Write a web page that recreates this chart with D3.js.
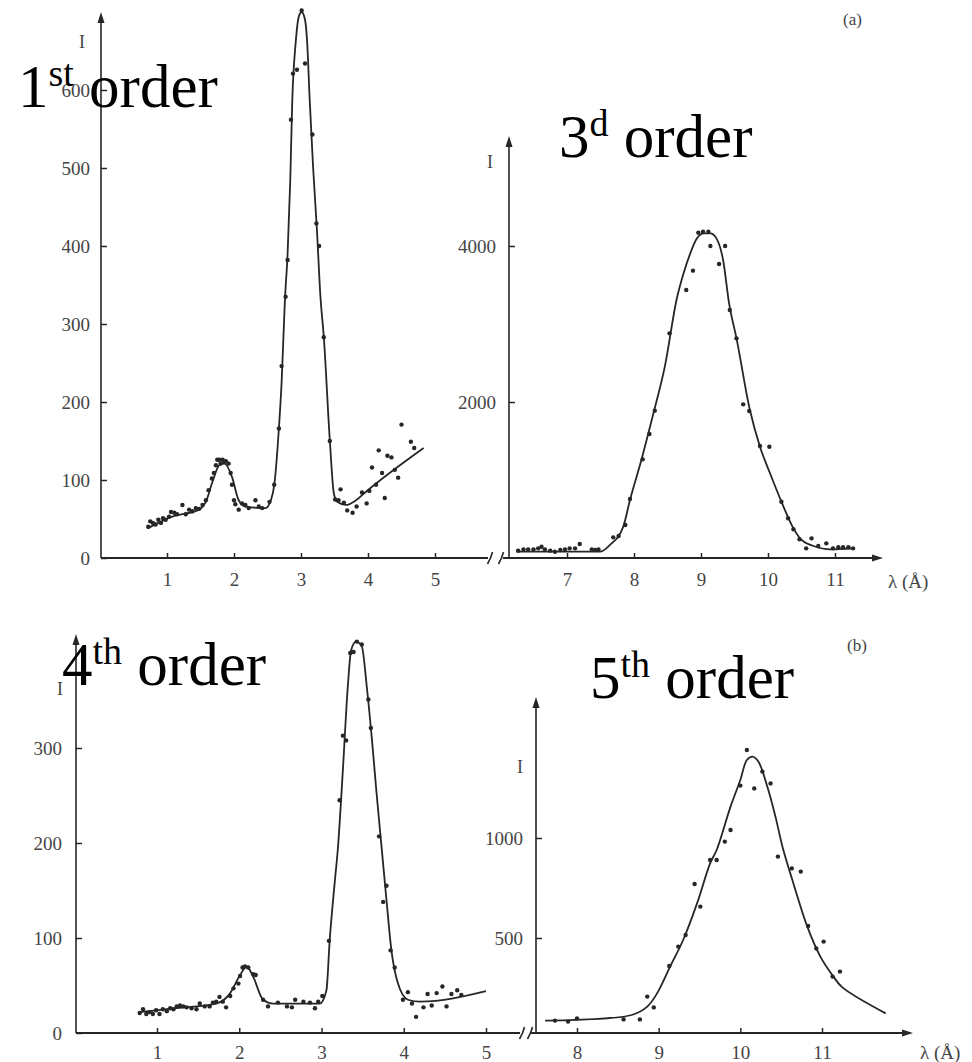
<!DOCTYPE html>
<html>
<head>
<meta charset="utf-8">
<script src="https://cdn.jsdelivr.net/npm/d3@7"></script>
<style>
  body { margin: 0; background: #fff; }
</style>
</head>
<body>
<svg id="chart" width="972" height="1062"></svg>
<script>
// ---- data, [lambda (Å), intensity] ----
const order1Curve = [[0.71,38],[1.08,53],[1.48,62],[1.58,72],[1.68,98],[1.78,119],[1.86,121],[1.97,104],[2.07,74],[2.17,66],[2.47,64],[2.55,74],[2.60,93],[2.67,166],[2.71,224],[2.76,331],[2.80,390],[2.84,485],[2.87,587],[2.92,660],[2.97,695],[3.01,700],[3.06,690],[3.09,664],[3.13,587],[3.18,502],[3.24,417],[3.29,335],[3.34,284],[3.43,151],[3.49,83],[3.54,72],[3.67,68],[3.82,74],[3.97,85],[4.83,141]];
const order1Dots = [[0.72,40],[0.75,47],[0.79,45],[0.83,43],[0.87,49],[0.91,45],[0.94,51],[0.98,49],[1.03,53],[1.06,59],[1.11,58],[1.15,56],[1.23,68],[1.28,56],[1.33,62],[1.38,60],[1.43,64],[1.48,63],[1.53,68],[1.58,74],[1.62,87],[1.67,102],[1.70,109],[1.73,119],[1.75,126],[1.78,126],[1.80,121],[1.83,126],[1.85,124],[1.88,124],[1.92,121],[1.95,109],[1.97,94],[2.00,74],[2.02,69],[2.07,62],[2.12,70],[2.17,68],[2.22,64],[2.32,74],[2.37,66],[2.42,64],[2.53,72],[2.60,94],[2.67,166],[2.71,246],[2.77,335],[2.80,382],[2.85,562],[2.88,621],[2.94,626],[3.01,702],[3.06,634],[3.17,543],[3.23,429],[3.27,400],[3.34,283],[3.43,150],[3.51,75],[3.56,74],[3.59,88],[3.64,71],[3.69,61],[3.77,58],[3.83,66],[3.91,84],[3.98,70],[4.02,86],[4.06,116],[4.12,94],[4.16,138],[4.21,109],[4.25,77],[4.29,131],[4.35,129],[4.40,113],[4.45,103],[4.50,171],[4.64,149],[4.69,141]];

const order3Curve = [[6.25,81],[7.49,81],[7.64,167],[7.84,402],[7.94,744],[8.11,1256],[8.29,1855],[8.46,2453],[8.64,3330],[8.74,3650],[8.84,3906],[8.94,4098],[9.04,4162],[9.14,4162],[9.23,4098],[9.33,3820],[9.42,3260],[9.53,2816],[9.73,1897],[9.88,1427],[10.03,1086],[10.20,722],[10.38,380],[10.50,231],[10.68,154],[10.93,111],[11.27,124]];
const order3Dots = [[6.27,94],[6.35,111],[6.42,111],[6.50,111],[6.57,124],[6.62,145],[6.67,111],[6.75,94],[6.82,81],[6.90,103],[6.97,111],[7.04,124],[7.12,124],[7.19,179],[7.37,111],[7.42,103],[7.47,111],[7.69,265],[7.77,282],[7.87,423],[7.94,756],[8.13,1265],[8.23,1590],[8.31,1889],[8.53,2880],[8.78,3436],[8.88,3684],[8.96,4171],[9.03,4184],[9.11,4184],[9.14,4000],[9.27,3769],[9.36,4000],[9.43,3179],[9.53,2816],[9.63,1970],[9.72,1885],[9.88,1436],[10.02,1427],[10.20,722],[10.30,509],[10.38,368],[10.47,240],[10.57,124],[10.65,252],[10.75,154],[10.87,188],[10.97,124],[11.05,137],[11.12,137],[11.20,137],[11.27,124]];

const order4Curve = [[0.79,22],[1.20,26],[1.72,31],[1.89,42],[2.01,61],[2.09,70],[2.17,59],[2.29,35],[2.41,31],[2.98,31],[3.06,45],[3.10,98],[3.16,158],[3.20,195],[3.26,277],[3.32,365],[3.36,403],[3.42,412],[3.49,407],[3.55,365],[3.61,312],[3.67,252],[3.73,196],[3.79,140],[3.85,87],[3.93,52],[4.05,35],[4.20,33],[5.0,44]];
const order4Dots = [[0.79,21],[0.83,25],[0.87,20],[0.91,22],[0.95,20],[0.99,24],[1.03,20],[1.07,25],[1.12,23],[1.16,26],[1.20,25],[1.24,28],[1.28,29],[1.32,28],[1.36,27],[1.42,26],[1.48,25],[1.52,31],[1.58,28],[1.64,28],[1.68,32],[1.72,33],[1.76,38],[1.80,33],[1.84,27],[1.89,39],[1.93,47],[1.99,52],[2.01,60],[2.04,69],[2.07,70],[2.11,69],[2.17,62],[2.20,61],[2.29,35],[2.35,28],[2.47,32],[2.58,28],[2.64,27],[2.68,35],[2.78,33],[2.86,32],[2.92,26],[2.96,33],[3.01,39],[3.09,97],[3.22,245],[3.26,313],[3.30,308],[3.35,400],[3.39,401],[3.43,412],[3.49,409],[3.57,351],[3.60,321],[3.70,207],[3.75,138],[3.79,155],[3.84,87],[3.89,69],[3.99,35],[4.05,43],[4.10,31],[4.15,17],[4.24,27],[4.29,41],[4.34,29],[4.40,42],[4.47,49],[4.52,28],[4.58,41],[4.65,45],[4.70,40]];

const order5Curve = [[7.61,87],[8.67,115],[8.86,157],[8.98,223],[9.14,357],[9.30,490],[9.47,673],[9.63,873],[9.71,940],[9.88,1157],[10.0,1290],[10.08,1390],[10.15,1407],[10.22,1383],[10.33,1257],[10.43,1107],[10.52,950],[10.65,773],[10.82,557],[10.98,407],[11.14,307],[11.25,253],[11.78,123]];
const order5Dots = [[7.73,87],[7.89,82],[8.00,98],[8.57,93],[8.77,93],[8.86,207],[8.94,153],[9.13,360],[9.24,457],[9.33,515],[9.44,770],[9.51,657],[9.63,890],[9.71,890],[9.81,982],[9.88,1040],[10.0,1262],[10.08,1440],[10.17,1248],[10.27,1332],[10.37,1273],[10.46,907],[10.63,848],[10.74,832],[10.83,560],[10.93,448],[11.02,482],[11.13,307],[11.22,332]];

const order1YTicks = [0, 100, 200, 300, 400, 500, 600];
const order1XTicks = [1, 2, 3, 4, 5];
const order3YTicks = [2000, 4000];
const order3XTicks = [7, 8, 9, 10, 11];
const order4YTicks = [0, 100, 200, 300];
const order4XTicks = [1, 2, 3, 4, 5];
const order5YTicks = [500, 1000];
const order5XTicks = [8, 9, 10, 11];

const titles = [
  { num: '1', sup: 'st', x: 18, y: 107 },
  { num: '3', sup: 'd', x: 559, y: 157 },
  { num: '4', sup: 'th', x: 62, y: 685 },
  { num: '5', sup: 'th', x: 590, y: 698 }
];

// ---- drawing ----
const svg = d3.select('#chart');
const serif = '"Liberation Serif", "Times New Roman", serif';
const ink = '#262626';
const gray = '#454545';

function arrowUp(g, x, y) {
  g.append('path')
    .attr('d', `M${x - 3.5},${y + 11}L${x},${y}L${x + 3.5},${y + 11}Z`)
    .attr('fill', ink);
}

function arrowRight(g, x, y) {
  g.append('path')
    .attr('d', `M${x - 11},${y - 3.5}L${x},${y}L${x - 11},${y + 3.5}Z`)
    .attr('fill', ink);
}

function breakMark(g, x, y) {
  g.append('path')
    .attr('d', `M${x - 2.5},${y + 6}Q${x + 1},${y} ${x + 2.5},${y - 6}`)
    .attr('fill', 'none').attr('stroke', ink).attr('stroke-width', 1.6);
}

function drawPanel(p) {
  const x = d3.scaleLinear().domain(p.xDomain).range(p.xRange);
  const y = d3.scaleLinear().domain(p.yDomain).range(p.yRange);
  const g = svg.append('g');

  // axis lines
  g.append('line')
    .attr('x1', p.axisX).attr('x2', p.axisX)
    .attr('y1', p.axisY).attr('y2', p.top + 6)
    .attr('stroke', ink).attr('stroke-width', 1.6);
  arrowUp(g, p.axisX, p.top);

  g.append('line')
    .attr('x1', p.xStart).attr('x2', p.xEnd)
    .attr('y1', p.axisY).attr('y2', p.axisY)
    .attr('stroke', ink).attr('stroke-width', 1.8);
  if (p.arrow) arrowRight(g, p.xEnd + 3, p.axisY);

  // ticks and labels
  const yAxis = g.append('g')
    .attr('transform', `translate(${p.axisX},0)`)
    .call(d3.axisLeft(y).tickValues(p.yTicks).tickSize(-6).tickPadding(p.yPad).tickFormat(d3.format('d')));
  const xAxis = g.append('g')
    .attr('transform', `translate(0,${p.axisY})`)
    .call(d3.axisBottom(x).tickValues(p.xTicks).tickSize(-5).tickPadding(p.xPad).tickFormat(d3.format('d')));
  [yAxis, xAxis].forEach((a) => {
    a.select('.domain').remove();
    a.attr('font-family', serif).attr('font-size', 19);
    a.selectAll('line').attr('stroke', ink).attr('stroke-width', 1.5);
    a.selectAll('text').attr('fill', gray);
  });

  // fitted curve
  g.append('path')
    .datum(p.curve)
    .attr('d', d3.line()
      .x(function (d) { return x(d[0]); })
      .y(function (d) { return y(d[1]); })
      .curve(p.curveType))
    .attr('fill', 'none')
    .attr('stroke', ink)
    .attr('stroke-width', 1.8);

  // measured points
  g.selectAll('circle')
    .data(p.dots)
    .enter().append('circle')
    .attr('cx', function (d) { return x(d[0]); })
    .attr('cy', function (d) { return y(d[1]); })
    .attr('r', 2.2)
    .attr('fill', ink);

  // "I" axis label
  g.append('text')
    .attr('x', p.iLabel[0]).attr('y', p.iLabel[1])
    .attr('text-anchor', 'middle')
    .attr('font-family', serif).attr('font-size', 18)
    .attr('fill', gray)
    .text('I');

  return g;
}

drawPanel({
  xDomain: [1, 5], xRange: [167, 435],
  yDomain: [0, 600], yRange: [558, 90],
  axisX: 101, axisY: 558, top: 12, xStart: 101, xEnd: 488, arrow: false,
  yTicks: order1YTicks, xTicks: order1XTicks, yPad: 11, xPad: 15,
  curve: order1Curve, dots: order1Dots, iLabel: [82, 48], curveType: d3.curveMonotoneX
});

drawPanel({
  xDomain: [7, 11], xRange: [567, 835],
  yDomain: [0, 4000], yRange: [558, 246],
  axisX: 509, axisY: 558, top: 136, xStart: 503, xEnd: 880, arrow: true,
  yTicks: order3YTicks, xTicks: order3XTicks, yPad: 13, xPad: 15,
  curve: order3Curve, dots: order3Dots, iLabel: [490, 168], curveType: d3.curveMonotoneX
});

drawPanel({
  xDomain: [1, 5], xRange: [157, 486],
  yDomain: [0, 300], yRange: [1033, 748],
  axisX: 76, axisY: 1033, top: 634, xStart: 76, xEnd: 520, arrow: false,
  yTicks: order4YTicks, xTicks: order4XTicks, yPad: 14, xPad: 13,
  curve: order4Curve, dots: order4Dots, iLabel: [60, 695], curveType: d3.curveMonotoneX
});

drawPanel({
  xDomain: [8, 11], xRange: [577, 822],
  yDomain: [500, 1000], yRange: [938, 838],
  axisX: 536, axisY: 1033, top: 697, xStart: 531, xEnd: 910, arrow: true,
  yTicks: order5YTicks, xTicks: order5XTicks, yPad: 13, xPad: 13,
  curve: order5Curve, dots: order5Dots, iLabel: [520, 773], curveType: d3.curveCatmullRom.alpha(0.5)
});

// axis breaks
const breaks = svg.append('g');
breakMark(breaks, 490, 558);
breakMark(breaks, 501, 558);
breakMark(breaks, 522, 1033);
breakMark(breaks, 530, 1033);

// λ (Å) labels
svg.append('text').attr('x', 888).attr('y', 588)
  .attr('font-family', serif).attr('font-size', 19).attr('fill', gray)
  .text('λ (Å)');
svg.append('text').attr('x', 920).attr('y', 1059)
  .attr('font-family', serif).attr('font-size', 19).attr('fill', gray)
  .text('λ (Å)');

// (a) / (b)
svg.append('text').attr('x', 843).attr('y', 25)
  .attr('font-family', serif).attr('font-size', 17).attr('fill', gray)
  .text('(a)');
svg.append('text').attr('x', 847).attr('y', 651)
  .attr('font-family', serif).attr('font-size', 17).attr('fill', gray)
  .text('(b)');

// big order titles
titles.forEach(function (t) {
  const txt = svg.append('text')
    .attr('x', t.x).attr('y', t.y)
    .attr('font-family', serif)
    .attr('font-size', 61)
    .attr('fill', '#000');
  txt.append('tspan').text(t.num);
  txt.append('tspan').attr('font-size', 38).attr('dy', -21).text(t.sup);
  txt.append('tspan').attr('dy', 21).text(' order');
});
</script>
</body>
</html>
